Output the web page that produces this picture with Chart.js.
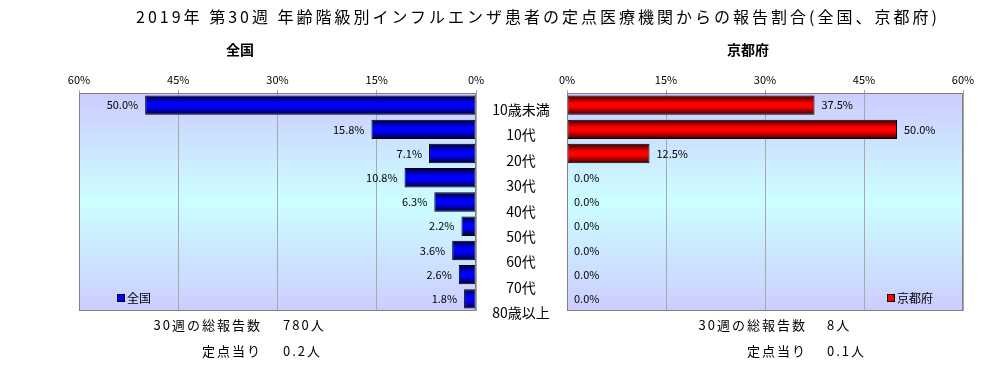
<!DOCTYPE html>
<html><head><meta charset="utf-8">
<script src="https://cdn.jsdelivr.net/npm/chart.js@4/dist/chart.umd.min.js"></script>
<style>
html,body{margin:0;padding:0;background:#fff;}
#wrap{position:relative;width:1006px;height:365px;overflow:hidden;font-family:"Noto Sans CJK JP","Noto Sans",sans-serif;color:#000;}
canvas{position:absolute;left:0;top:0;}
.t{position:absolute;white-space:nowrap;line-height:1;}
</style></head>
<body><div id="wrap">
<canvas id="cL" width="1006" height="365"></canvas>
<canvas id="cR" width="1006" height="365"></canvas>
</div>
<script>
const title = "2019年 第30週 年齢階級別インフルエンザ患者の定点医療機関からの報告割合(全国、京都府)";
const categories = ["10歳未満","10代","20代","30代","40代","50代","60代","70代","80歳以上"];
const panelNames = ["全国","京都府"];
const nationalValues = [50.0, 15.8, 7.1, 10.8, 6.3, 2.2, 3.6, 2.6, 1.8];
const kyotoValues = [37.5, 50.0, 12.5, 0.0, 0.0, 0.0, 0.0, 0.0, 0.0];
const axisTicks = [0, 15, 30, 45, 60];
const totalLabel = "30週の総報告数";
const perPointLabel = "定点当り";
const totals = ["780人", "8人"];
const perPoint = ["0.2人", "0.1人"];

const FONT = '"Noto Sans CJK JP","Noto Sans",sans-serif';
const wrap = document.getElementById('wrap');
function addText(txt, css){ const d=document.createElement('div'); d.className='t'; d.textContent=txt; Object.assign(d.style, css); wrap.appendChild(d); return d; }

// title
addText(title, {left:'0px', width:'1076px', textAlign:'center', top:'8px', fontSize:'16px', letterSpacing:'3px'});
// panel headers
addText(panelNames[0], {left:'190px', width:'100px', textAlign:'center', top:'42px', fontSize:'14px', fontWeight:'bold'});
addText(panelNames[1], {left:'698px', width:'100px', textAlign:'center', top:'42px', fontSize:'14px', fontWeight:'bold'});
// category labels (between panels)
categories.forEach((c,i)=>{
  addText(c, {left:'471px', width:'100px', textAlign:'center', top:(102 + i*25.4)+'px', fontSize:'14px'});
});
// bottom info
const infoRight = [262, 807];
const infoVal = [283, 827];
[0,1].forEach(p=>{
  addText(totalLabel, {right:(1006-infoRight[p])+'px', top:'318px', fontSize:'13px', letterSpacing:'2px'});
  addText(totals[p], {left:infoVal[p]+'px', top:'318px', fontSize:'13px', letterSpacing:'2px'});
  addText(perPointLabel, {right:(1006-infoRight[p])+'px', top:'344px', fontSize:'13px', letterSpacing:'2px'});
  addText(perPoint[p], {left:infoVal[p]+'px', top:'344px', fontSize:'13px', letterSpacing:'2px'});
});

const bgPlugin = {
  id:'bg',
  beforeDraw(chart){
    const a = chart.chartArea, ctx = chart.ctx;
    const g = ctx.createLinearGradient(0, a.top, 0, a.bottom);
    g.addColorStop(0, '#ccccff');
    g.addColorStop(0.5, '#ccffff');
    g.addColorStop(1, '#ccccff');
    ctx.save(); ctx.fillStyle = g; ctx.fillRect(a.left, a.top, a.right-a.left, a.bottom-a.top); ctx.restore();
  },
  afterDatasetsDraw(chart, args, opts){
    const ctx = chart.ctx, a = chart.chartArea;
    ctx.save();
    ctx.strokeStyle = '#808080'; ctx.lineWidth = 1;
    ctx.strokeRect(Math.round(a.left)+0.5, Math.round(a.top)+0.5, Math.round(a.right-a.left)-1, Math.round(a.bottom-a.top)-1);
    // value labels
    const meta = chart.getDatasetMeta(0);
    const data = chart.data.datasets[0].data;
    ctx.font = '11px ' + FONT;
    ctx.fillStyle = '#000';
    ctx.textBaseline = 'middle';
    meta.data.forEach((el, i)=>{
      const txt = data[i].toFixed(1) + '%';
      if (opts.side === 'left') { ctx.textAlign = 'right'; ctx.fillText(txt, el.x - 7, el.y); }
      else { ctx.textAlign = 'left'; ctx.fillText(txt, el.x + 7, el.y); }
    });
    // legend inside plot area
    const ds = chart.data.datasets[0];
    ctx.font = '12px ' + FONT;
    ctx.textAlign = 'left';
    const lx = opts.legendX, ly = a.bottom - 13;
    ctx.fillStyle = opts.mid; ctx.fillRect(lx, ly-3, 6, 6);
    ctx.strokeStyle = '#000'; ctx.strokeRect(lx-0.5, ly-3.5, 7, 7);
    ctx.fillStyle = '#000'; ctx.fillText(ds.label, lx + 9, ly);
    ctx.restore();
  }
};

function barFill(dark, mid){
  return (c)=>{
    const ch = c.chart, ys = ch.scales.y;
    if (!ys || !ch.chartArea) return mid;
    const yc = ys.getPixelForValue(c.dataIndex);
    const h = (ys.bottom - ys.top) / categories.length * 0.8;
    const g = ch.ctx.createLinearGradient(0, yc - h/2, 0, yc + h/2);
    g.addColorStop(0, dark); g.addColorStop(0.4, mid); g.addColorStop(0.6, mid); g.addColorStop(1, dark);
    return g;
  };
}

function makeChart(id, label, values, reverse, pad, dark, mid, side, legendX){
  return new Chart(document.getElementById(id), {
    type:'bar',
    data:{ labels:categories, datasets:[{ label, data:values,
      backgroundColor: barFill(dark, mid),
      borderColor:'#000',
      borderWidth:(c)=> (c.raw === 0 ? 0 : 1),
      borderSkipped:false,
      categoryPercentage:1.0, barPercentage:0.8 }] },
    options:{
      indexAxis:'y', responsive:false, animation:false, devicePixelRatio:1,
      layout:{ padding: pad },
      plugins:{ legend:{display:false}, tooltip:{enabled:false}, title:{display:false}, bg:{ side, mid, legendX } },
      scales:{
        x:{ position:'top', reverse, min:0, max:60,
          afterBuildTicks:(s)=>{ s.ticks = axisTicks.map(v=>({value:v})); },
          afterFit:(s)=>{ s.height = 20; },
          ticks:{ callback:(v)=> v + '%', font:{family:FONT, size:11}, color:'#000', padding:4, maxRotation:0, autoSkip:false },
          grid:{ color:'#a8a8a8', drawTicks:true, tickLength:3, lineWidth:1 },
          border:{ display:false } },
        y:{ display:false, grid:{display:false} }
      }
    },
    plugins:[bgPlugin]
  });
}

makeChart('cL', panelNames[0], nationalValues, true, {left:79, right:530, top:73, bottom:54}, '#000033', '#0000ff', 'left', 118);
makeChart('cR', panelNames[1], kyotoValues, false, {left:567, right:43, top:73, bottom:54}, '#330000', '#ff0000', 'right', 888);
</script>
</body></html>
